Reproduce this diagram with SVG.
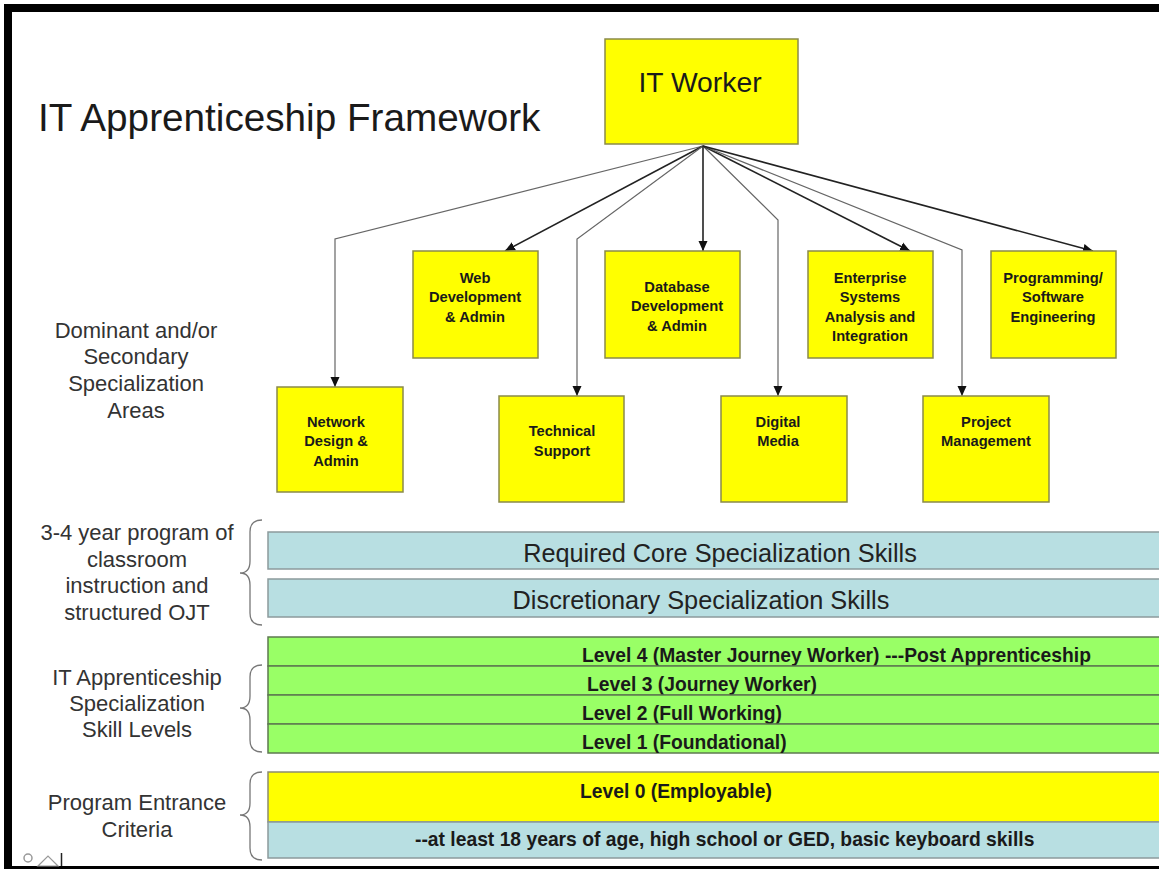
<svg xmlns="http://www.w3.org/2000/svg" width="1159" height="869" viewBox="0 0 1159 869">
<defs>
<marker id="arr" markerUnits="userSpaceOnUse" markerWidth="10" markerHeight="10" viewBox="0 0 10 10" refX="10" refY="5" orient="auto">
<path d="M0,0.5 L10,5 L0,9.5 Z" fill="#111"/>
</marker>
<style>
.box{fill:#ffff00;stroke:#8a8a4a;stroke-width:1.5}
.nt{font-family:"Liberation Sans",Arial,sans-serif;font-size:14.7px;font-weight:bold;fill:#1a1a1a;text-anchor:middle}
.lbl{font-family:"Liberation Sans",Arial,sans-serif;font-size:22px;fill:#333;text-anchor:middle}
.st{fill:none;stroke:#222;stroke-width:1.6}
.bt{fill:none;stroke:#666;stroke-width:1.2}
.cy{fill:#b8dfe2;stroke:#8c9a9c;stroke-width:1.5}
.gr{fill:#99ff66;stroke:#5e7a50;stroke-width:1.5}
.yl{fill:#ffff00;stroke:#8c8c70;stroke-width:1.5}
.bar{font-family:"Liberation Sans",Arial,sans-serif;font-size:25.3px;fill:#222;text-anchor:middle}
.lv{font-family:"Liberation Sans",Arial,sans-serif;font-size:19.3px;font-weight:bold;fill:#1a1a1a}
.br{fill:none;stroke:#777;stroke-width:1.3}
</style>
</defs>
<rect x="0" y="0" width="1159" height="869" fill="#fff"/>
<g id="frame">
<rect x="4" y="4" width="1155" height="8" fill="#000"/>
<rect x="4" y="4" width="8" height="865" fill="#000"/>
<rect x="4" y="866" width="1155" height="3" fill="#000"/>
</g>
<text id="title" x="38" y="131" font-family="Liberation Sans,Arial,sans-serif" font-size="38.7" fill="#1a1a1a">IT Apprenticeship Framework</text>

<g id="connectors">
<path class="bt" d="M703,146 L335,239 L335,387" marker-end="url(#arr)"/>
<path class="st" d="M703,146 L505,251" marker-end="url(#arr)"/>
<path class="bt" d="M703,146 L577,239 L577,396" marker-end="url(#arr)"/>
<path class="st" d="M703,146 L703,251" marker-end="url(#arr)"/>
<path class="bt" d="M703,146 L778,220 L778,396" marker-end="url(#arr)"/>
<path class="st" d="M703,146 L910,251" marker-end="url(#arr)"/>
<path class="bt" d="M703,146 L962,250 L962,396" marker-end="url(#arr)"/>
<path class="st" d="M703,146 L1093,251" marker-end="url(#arr)"/>
</g>

<g id="it-worker">
<rect class="box" x="605" y="39" width="193" height="105"/>
<text x="700" y="92" font-family="Liberation Sans,Arial,sans-serif" font-size="28.3" fill="#1a1a1a" text-anchor="middle">IT Worker</text>
</g>
<g id="web">
<rect class="box" x="413" y="251" width="125" height="107"/>
<text class="nt" x="475" y="283">Web</text>
<text class="nt" x="475" y="302">Development</text>
<text class="nt" x="475" y="322">&amp; Admin</text>
</g>
<g id="database">
<rect class="box" x="605" y="251" width="135" height="107"/>
<text class="nt" x="677" y="292">Database</text>
<text class="nt" x="677" y="311">Development</text>
<text class="nt" x="677" y="331">&amp; Admin</text>
</g>
<g id="enterprise">
<rect class="box" x="808" y="251" width="125" height="107"/>
<text class="nt" x="870" y="283">Enterprise</text>
<text class="nt" x="870" y="302">Systems</text>
<text class="nt" x="870" y="322">Analysis and</text>
<text class="nt" x="870" y="341">Integration</text>
</g>
<g id="programming">
<rect class="box" x="991" y="251" width="125" height="107"/>
<text class="nt" x="1053" y="283">Programming/</text>
<text class="nt" x="1053" y="302">Software</text>
<text class="nt" x="1053" y="322">Engineering</text>
</g>
<g id="network">
<rect class="box" x="277" y="387" width="126" height="105"/>
<text class="nt" x="336" y="427">Network</text>
<text class="nt" x="336" y="446">Design &amp;</text>
<text class="nt" x="336" y="466">Admin</text>
</g>
<g id="technical">
<rect class="box" x="499" y="396" width="125" height="106"/>
<text class="nt" x="562" y="436">Technical</text>
<text class="nt" x="562" y="456">Support</text>
</g>
<g id="digital">
<rect class="box" x="721" y="396" width="126" height="106"/>
<text class="nt" x="778" y="427">Digital</text>
<text class="nt" x="778" y="446">Media</text>
</g>
<g id="project">
<rect class="box" x="923" y="396" width="126" height="106"/>
<text class="nt" x="986" y="427">Project</text>
<text class="nt" x="986" y="446">Management</text>
</g>

<g id="label-areas">
<text class="lbl" x="136" y="338">Dominant and/or</text>
<text class="lbl" x="136" y="364">Secondary</text>
<text class="lbl" x="136" y="391">Specialization</text>
<text class="lbl" x="136" y="418">Areas</text>
</g>
<g id="label-program">
<text class="lbl" x="137" y="540">3-4 year program of</text>
<text class="lbl" x="137" y="567">classroom</text>
<text class="lbl" x="137" y="593">instruction and</text>
<text class="lbl" x="137" y="620">structured OJT</text>
</g>
<g id="label-levels">
<text class="lbl" x="137" y="685">IT Apprenticeship</text>
<text class="lbl" x="137" y="711">Specialization</text>
<text class="lbl" x="137" y="737">Skill Levels</text>
</g>
<g id="label-entrance">
<text class="lbl" x="137" y="810">Program Entrance</text>
<text class="lbl" x="137" y="837">Criteria</text>
</g>

<g id="braces">
<path class="br" d="M262,520 Q250,520 250,532 L250,561 Q250,573 240,573 Q250,573 250,585 L250,613 Q250,625 262,625"/>
<path class="br" d="M262,665 Q250,665 250,677 L250,696 Q250,708 240,708 Q250,708 250,720 L250,740 Q250,752 262,752"/>
<path class="br" d="M262,772 Q250,772 250,784 L250,803 Q250,815 240,815 Q250,815 250,827 L250,848 Q250,860 262,860"/>
</g>

<g id="core-skills">
<rect class="cy" x="268" y="532" width="900" height="37"/>
<text class="bar" x="720" y="562">Required Core Specialization Skills</text>
</g>
<g id="discretionary-skills">
<rect class="cy" x="268" y="579" width="900" height="38"/>
<text class="bar" x="701" y="609">Discretionary Specialization Skills</text>
</g>
<g id="level4">
<rect class="gr" x="268" y="637" width="900" height="29"/>
<text class="lv" x="582" y="662">Level 4 (Master Journey Worker) ---Post Apprenticeship</text>
</g>
<g id="level3">
<rect class="gr" x="268" y="666" width="900" height="29"/>
<text class="lv" x="587" y="691">Level 3 (Journey Worker)</text>
</g>
<g id="level2">
<rect class="gr" x="268" y="695" width="900" height="29"/>
<text class="lv" x="582" y="720">Level 2 (Full Working)</text>
</g>
<g id="level1">
<rect class="gr" x="268" y="724" width="900" height="29"/>
<text class="lv" x="582" y="749">Level 1 (Foundational)</text>
</g>
<g id="level0">
<rect class="yl" x="268" y="772" width="900" height="50"/>
<text class="lv" x="580" y="798">Level 0 (Employable)</text>
</g>
<g id="entrance">
<rect class="cy" x="268" y="822" width="900" height="36"/>
<text class="lv" x="415" y="846">--at least 18 years of age, high school or GED, basic keyboard skills</text>
</g>

<g id="toolbar-icon">
<circle cx="28" cy="858" r="4" fill="none" stroke="#999" stroke-width="1.5"/>
<path d="M38,866 L48,856 L58,866 Z" fill="none" stroke="#999" stroke-width="1.2"/>
<line x1="61.5" y1="853" x2="61.5" y2="866" stroke="#222" stroke-width="1.5"/>
</g>
</svg>
